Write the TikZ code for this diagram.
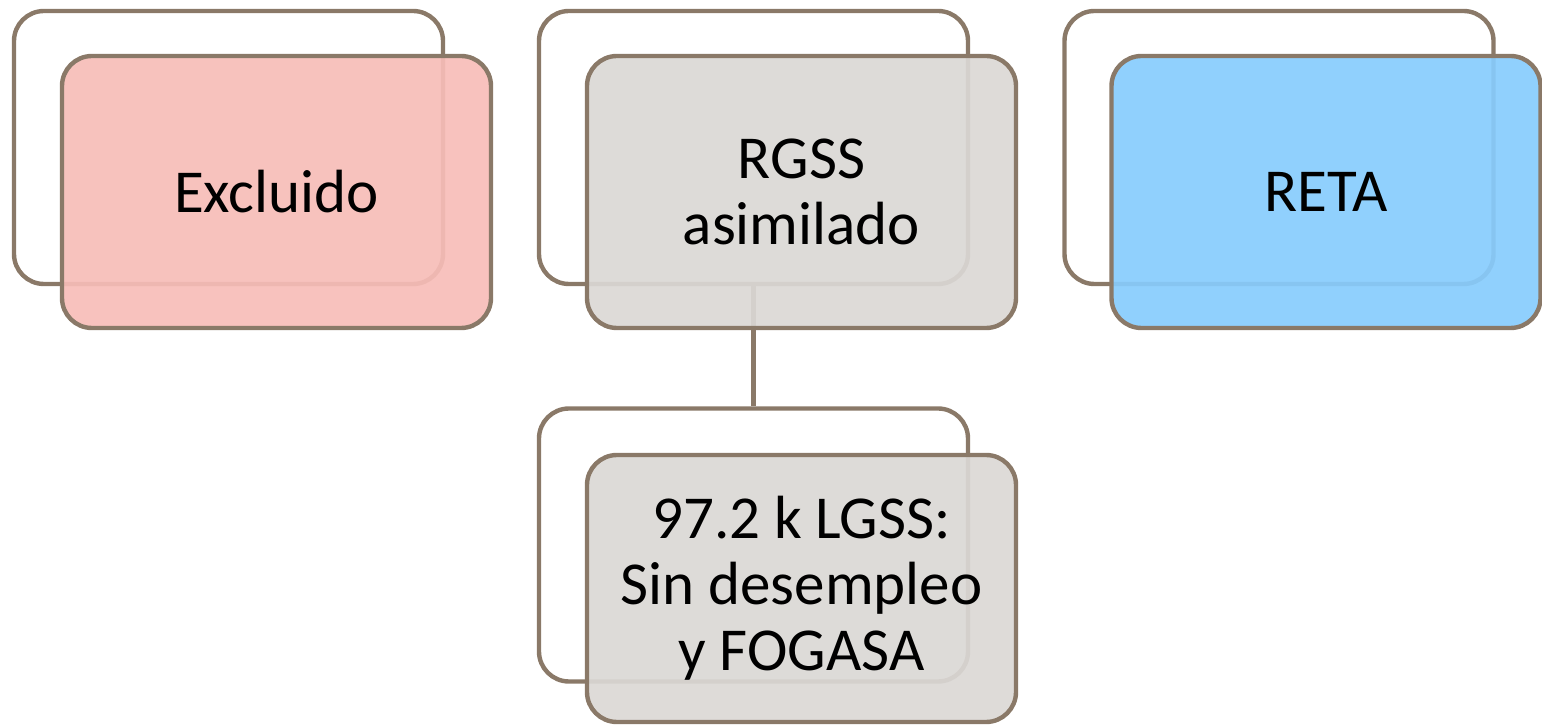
\documentclass[tikz,border=0pt]{standalone}
\usepackage{fontspec}
\setmainfont{Carlito}
\definecolor{edge}{HTML}{8A7968}
\definecolor{pinkfill}{HTML}{F7BDB8}
\definecolor{grayfill}{HTML}{DBD8D5}
\definecolor{bluefill}{HTML}{87CCFD}
\begin{document}
\begin{tikzpicture}[x=0.5pt,y=-0.5pt,
  backbox/.style={draw=edge, line width=2.2pt, fill=white, rounded corners=15pt,
    minimum width=214.5pt, minimum height=136.5pt, inner sep=0pt},
  frontbox/.style={draw=edge, line width=2.2pt, fill opacity=0.92, text opacity=1,
    rounded corners=15pt, minimum width=214.5pt, minimum height=136pt, inner sep=0pt,
    align=center, font=\fontsize{30.5}{33}\selectfont},
  link/.style={draw=edge, line width=2.2pt}]
\useasboundingbox (0,0) rectangle (1542,726);
% back boxes
\node[backbox] (b1) at (228.5,147.5) {};
\node[backbox] (b2) at (753.5,147.5) {};
\node[backbox] (b3) at (1279,147.5) {};
\node[backbox] (b4) at (753.5,545) {};
% connector
\draw[link] (b2.south) -- (b4.north);
% front boxes
\node[frontbox, fill=pinkfill] (f1) at (276.5,192) {Excluido};
\node[frontbox, fill=grayfill] (f2) at (801.5,192) {RGSS\\asimilado};
\node[frontbox, fill=bluefill] (f3) at (1326,192) {RETA};
\node[frontbox, fill=grayfill, minimum height=133.5pt] (f4) at (801.5,588.5) {97.2 k LGSS:\\Sin desempleo\\y FOGASA};
\end{tikzpicture}
\end{document}
